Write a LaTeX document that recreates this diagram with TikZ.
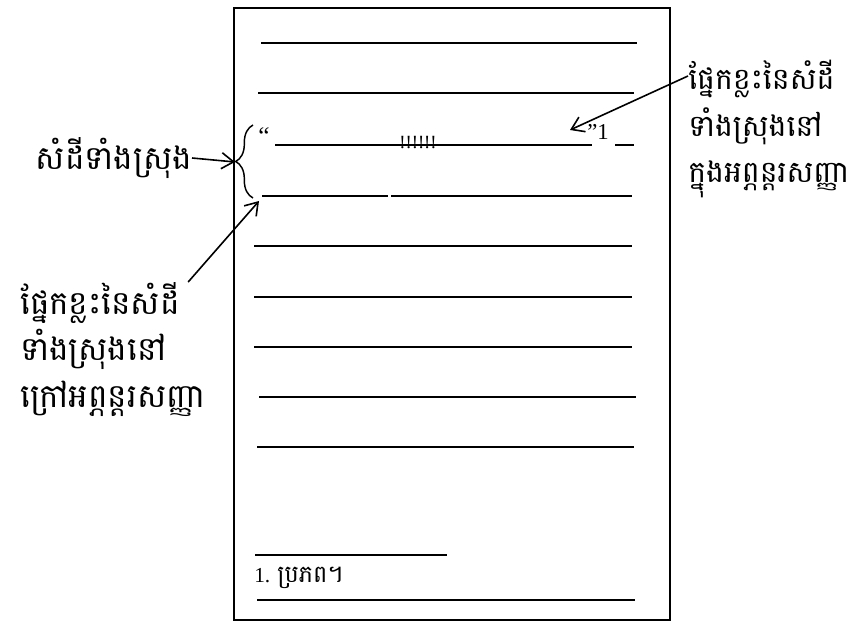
\documentclass[tikz,border=0pt]{standalone}
\usepackage{fontspec}
\setmainfont{Liberation Serif}
\newfontfamily\khmer[Script=Khmer]{Battambang}
\usetikzlibrary{calc, positioning}
\usetikzlibrary{arrows.meta}
\usetikzlibrary{decorations.pathreplacing}

\begin{document}
\begin{tikzpicture}[x=0.75pt,y=-0.75pt,
  txtline/.style={line width=1.3pt},
  kmlabel/.style={font=\khmer\fontsize{24.5}{35}\selectfont, align=left, inner sep=0pt},
  pointer/.style={-{Straight Barb[length=9pt,width=12pt]}, line width=1.2pt}]
\useasboundingbox (0,0) rectangle (851,624);
\draw[line width=1pt] (234,8) rectangle (670,620);
% lines of the page
\draw[txtline] (261,43) -- (637,43);
\draw[txtline] (258,93) -- (634,93);
\draw[txtline] (275,145) -- (592,145);
\draw[txtline] (615,145) -- (634,145);
\draw[txtline] (262,196) -- (388,196);
\draw[txtline] (391,196) -- (632,196);
\foreach \y/\a/\b in {246/254/632, 297/254/632, 347/254/632, 397/259/636, 447/257/634}
  \draw[txtline] (\a,\y) -- (\b,\y);
% footnote
\draw[txtline] (255,555) -- (447,555);
\draw[txtline] (257,600) -- (635,600);
\node[anchor=west, inner sep=0pt] (note) at (254,578) {\fontsize{16}{18}\selectfont 1. {\khmer\fontsize{18}{20}\selectfont ប្រភព។}};
% quote marks
\node[inner sep=0pt] (open) at (264,136) {\fontsize{19}{21}\selectfont “};
\node[inner sep=0pt, anchor=south] (skip) at (418,149) {\fontsize{14}{16}\selectfont !!!!!!};
\node[inner sep=0pt] (close) at (598,132) {\fontsize{17}{19}\selectfont ”1};
% brace
\coordinate (braceTop) at (253,125);
\coordinate (braceBot) at (253,198);
\coordinate (braceTip) at (235,162);
\draw[line width=1.1pt, decorate, decoration={brace, amplitude=13pt}] (braceBot) -- (braceTop);
% labels
\node[kmlabel, anchor=east] (whole) at (192,158) {សំដីទាំងស្រុង};
\node[kmlabel, anchor=north west, font=\khmer\fontsize{22.5}{35}\selectfont] (inside) at (688,60) {ផ្នែកខ្លះនៃសំដី\\ទាំងស្រុងនៅ\\ក្នុងអព្ភន្តរសញ្ញា};
\node[kmlabel, anchor=north west] (outside) at (20,282) {ផ្នែកខ្លះនៃសំដី\\ទាំងស្រុងនៅ\\ក្រៅអព្ភន្តរសញ្ញា};
\coordinate (inHead) at (570,130);
\coordinate (outHead) at (259,201);
\draw[pointer] (whole.east) -- (braceTip);
\draw[pointer] ([yshift=-12pt]inside.north west) -- (inHead);
\draw[pointer] ([xshift=-13pt]outside.north east) -- (outHead);
\end{tikzpicture}
\end{document}
